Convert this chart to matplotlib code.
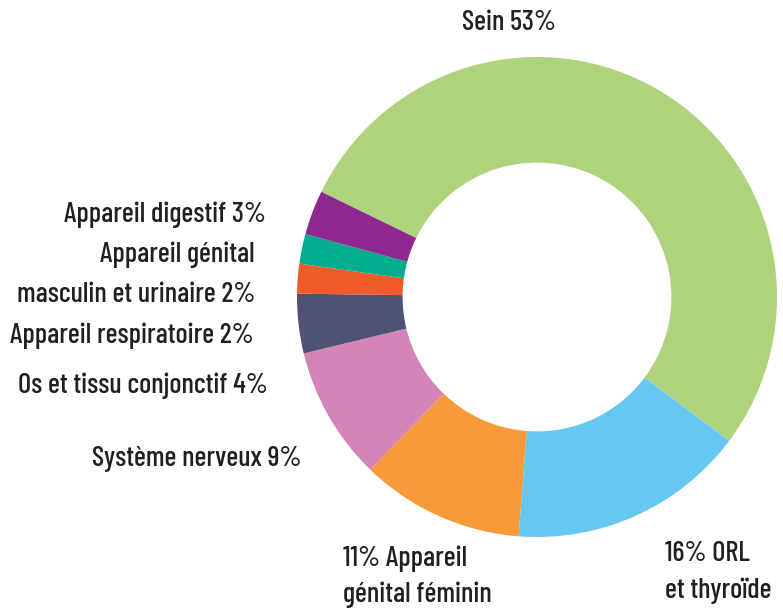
import matplotlib
matplotlib.use("Agg")
import matplotlib.pyplot as plt

# ---- data ----
categories = [
    "Sein",
    "ORL et thyroïde",
    "Appareil génital féminin",
    "Système nerveux",
    "Os et tissu conjonctif",
    "Appareil respiratoire",
    "Appareil génital masculin et urinaire",
    "Appareil digestif",
]
values = [53, 16, 11, 9, 4, 2, 2, 3]
colors = ["#afd37d", "#66c7f0", "#f89a38", "#d484b7", "#4f5272", "#f15a29", "#00ae8f", "#8e278f"]
labels = [
    "Sein 53%",
    "16% ORL\net thyroïde",
    "11% Appareil\ngénital féminin",
    "Système nerveux 9%",
    "Os et tissu conjonctif 4%",
    "Appareil respiratoire 2%",
    "Appareil génital\nmasculin et urinaire 2%",
    "Appareil digestif 3%",
]

W, H = 783, 612
fig = plt.figure(figsize=(W / 100, H / 100), dpi=100)

cx, cy, R = 537, 297, 240
ax = fig.add_axes([(cx - R) / W, (H - cy - R) / H, 2 * R / W, 2 * R / H])
ax.pie(values, colors=colors, startangle=154, counterclock=False,
       radius=1.0, wedgeprops=dict(width=0.44, linewidth=0))
ax.set_xlim(-1, 1)
ax.set_ylim(-1, 1)
ax.set_aspect("equal")
ax.axis("off")

font = dict(family=["Barlow Condensed", "DejaVu Sans"], fontsize=20.5, color="#231f20",
            weight=500)

# label anchor positions in pixels (x, baseline y of first line, line step, ha)
label_pos = [
    (509, 30, 0, "center"),
    (665, 561, 37, "left"),
    (343, 566, 36, "left"),
    (302, 466, 0, "right"),
    (268, 393, 0, "right"),
    (254, 343, 0, "right"),
    (255, 262, 40, "right"),
    (266, 222, 0, "right"),
]
for lab, (x, y, step, ha) in zip(labels, label_pos):
    for i, line in enumerate(lab.split("\n")):
        fig.text(x / W, 1 - (y + i * step) / H, line, ha=ha, va="baseline", **font)

fig.savefig("out.png", dpi=100)
